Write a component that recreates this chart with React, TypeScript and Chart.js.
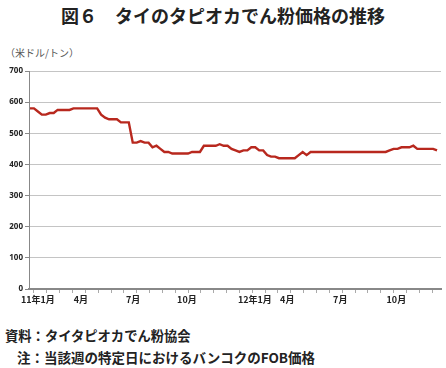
import React, { useEffect, useRef } from 'react';
import { Chart, registerables } from 'chart.js';

Chart.register(...registerables);

// Weekly FOB price (US$/t), Jan 2011 - Dec 2012
const prices: number[] = [
  580, 580, 570, 560, 560, 565, 565, 575, 575, 575,
  575, 580, 580, 580, 580, 580, 580, 580, 560, 550,
  545, 545, 545, 535, 535, 535, 470, 470, 475, 470,
  470, 455, 460, 450, 440, 440, 435, 435, 435, 435,
  435, 440, 440, 440, 460, 460, 460, 460, 465, 460,
  460, 450, 445, 440, 445, 445, 455, 455, 445, 445,
  430, 425, 425, 420, 420, 420, 420, 420, 430, 440,
  430, 440, 440, 440, 440, 440, 440, 440, 440, 440,
  440, 440, 440, 440, 440, 440, 440, 440, 440, 440,
  440, 445, 450, 450, 455, 455, 455, 460, 450, 450,
  450, 450, 450, 445,
];

const tickLabels: string[] = ['11年1月', '4月', '7月', '10月', '12年1月', '4月', '7月', '10月'];
const tickWeeks: number[] = [2.0, 12.9, 26.1, 39.7, 56.9, 65.1, 78.5, 92.7];
const markWeeks: number[] = Array.from({ length: 32 }, (_, i) => 1 + i * 3.25);

const yMin = 0;
const yMax = 700;
const yStep = 100;

export default function App() {
  const ref = useRef<HTMLCanvasElement | null>(null);

  useEffect(() => {
    if (!ref.current) return;
    const labelMap = new Map<number, string>();
    tickWeeks.forEach((w, i) => labelMap.set(w, tickLabels[i]));
    const chart = new Chart(ref.current, {
      type: 'line',
      data: {
        datasets: [
          {
            data: prices.map((v, i) => ({ x: i, y: v })),
            borderColor: '#b8281e',
            borderWidth: 2.4,
            pointRadius: 0,
            tension: 0,
            fill: false,
          },
        ],
      },
      options: {
        animation: false,
        responsive: false,
        maintainAspectRatio: false,
        layout: { padding: { top: 11, right: 5, left: 0, bottom: 0 } },
        plugins: { legend: { display: false }, tooltip: { enabled: false } },
        scales: {
          x: {
            type: 'linear',
            min: -0.25,
            max: 104,
            afterBuildTicks: (scale: any) => {
              const all = [
                ...markWeeks.map((v) => ({ value: v })),
                ...tickWeeks.map((v) => ({ value: v })),
              ].sort((a, b) => a.value - b.value);
              scale.ticks = all;
            },
            afterFit: (scale: any) => {
              scale.height = 21;
            },
            ticks: {
              autoSkip: false,
              maxRotation: 0,
              padding: 1,
              color: '#222',
              font: { family: 'Noto Sans CJK JP', size: 9, weight: 'bold' },
              callback: (v: any) => labelMap.get(v) ?? '',
            },
            grid: {
              display: true,
              drawOnChartArea: false,
              drawTicks: true,
              tickLength: 4,
              tickColor: (ctx: any) =>
                ctx.tick && labelMap.has(ctx.tick.value) ? 'rgba(0,0,0,0)' : '#aaa',
            },
            border: { display: true, color: '#888', width: 2 },
          },
          y: {
            min: yMin,
            max: yMax,
            afterFit: (scale: any) => {
              scale.width = 29;
            },
            ticks: {
              stepSize: yStep,
              padding: 2,
              color: '#222',
              font: { family: 'Noto Sans', size: 8, weight: 'bold' },
            },
            grid: {
              color: '#c4c4c4',
              lineWidth: 1,
              tickLength: 4,
              tickColor: '#888',
            },
            border: { display: true, color: '#888', width: 1 },
          },
        },
      },
    } as any);
    return () => chart.destroy();
  }, []);

  const jp = "'Noto Sans CJK JP', sans-serif";

  return (
    <div
      style={{
        position: 'fixed',
        left: 0,
        top: 0,
        width: 446,
        height: 368,
        background: '#fff',
        fontFamily: jp,
      }}
    >
      <div
        style={{
          position: 'absolute',
          left: 0,
          top: 4,
          width: 446,
          textAlign: 'center',
          fontSize: 18,
          lineHeight: '22px',
          fontWeight: 'bold',
          color: '#222',
        }}
      >
        図６　タイのタピオカでん粉価格の推移
      </div>
      <div
        style={{
          position: 'absolute',
          left: 5,
          top: 47,
          fontSize: 10,
          lineHeight: '12px',
          color: '#555',
        }}
      >
        （米ドル/トン）
      </div>
      <div style={{ position: 'absolute', left: 0, top: 60, width: 446, height: 250 }}>
        <canvas ref={ref} width={446} height={250} style={{ width: 446, height: 250 }} />
      </div>
      <div
        style={{
          position: 'absolute',
          left: 5,
          top: 328,
          fontSize: 13.3,
          lineHeight: '16px',
          fontWeight: 'bold',
          color: '#222',
          whiteSpace: 'nowrap',
        }}
      >
        資料：タイタピオカでん粉協会
      </div>
      <div
        style={{
          position: 'absolute',
          left: 17,
          top: 349,
          fontSize: 13.5,
          lineHeight: '16px',
          fontWeight: 'bold',
          color: '#222',
          whiteSpace: 'nowrap',
        }}
      >
        注：当該週の特定日におけるバンコクのFOB価格
      </div>
    </div>
  );
}
